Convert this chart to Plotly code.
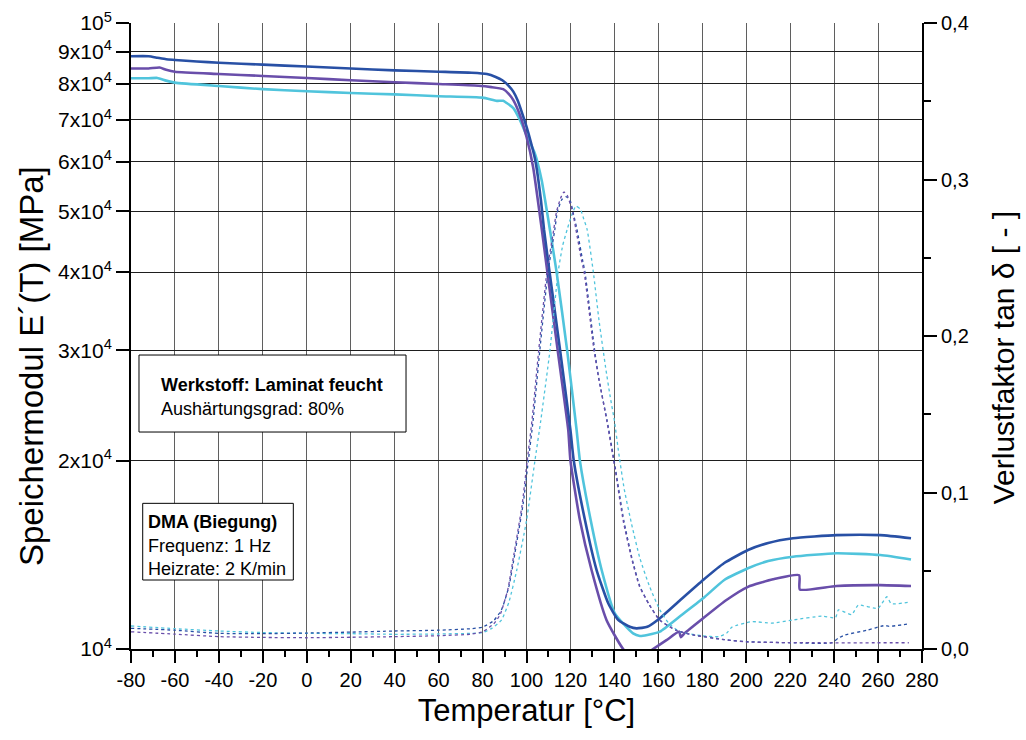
import plotly.graph_objects as go

# ---- storage modulus E'(T) [MPa] ----
temp_e_blue = [-80, -72, -68, -64, -60, -50, -40, -20, 0, 20, 40, 60, 75, 82, 86, 89, 92, 94, 96, 98, 100,
               102, 103.8, 105.2, 106.6, 108.0, 110.5, 115.3, 120.0, 121.5, 126.6, 131.9, 137.2, 141.7, 147.0,
               150.1, 155, 160.7, 170, 180.4, 190, 200.8, 210, 221.3, 241, 261, 275]
e_blue = [88500, 88500, 88000, 87500, 87300, 86800, 86400, 85800, 85200, 84600, 84000, 83600, 83300, 82900,
          82000, 81000, 79300, 77700, 75200, 71800, 68300, 64500, 60800, 56800, 52000, 46700, 40000, 30000,
          22380, 20000, 16070, 13370, 11830, 11130, 10850, 10790, 10850, 11200, 11975, 12890, 13720, 14390,
          14770, 15030, 15200, 15200, 15030]

temp_e_purple = [-80, -72, -67, -64, -60, -40, -20, 0, 20, 40, 60, 78, 84, 89.4, 92, 94, 97, 100, 103,
                 107.0, 109.5, 114.2, 119.0, 120.0, 124.3, 129.6, 136.4, 144.0, 150, 157.6, 163.7, 169.5,
                 170.2, 172, 180.4, 191, 200.8, 212.2, 224.1, 224.4, 241, 261, 275]
e_purple = [84600, 84600, 84900, 84200, 83600, 82900, 82300, 81700, 81000, 80400, 79900, 79400, 79000,
            78400, 77000, 75300, 71300, 65800, 58900, 46700, 40000, 30000, 22380, 20000, 16070, 13370,
            11130, 10000, 9600, 10000, 10330, 10660, 10440, 10600, 11200, 11975, 12570, 12920, 13120,
            12450, 12610, 12650, 12610]

temp_e_cyan = [-80, -72, -68, -64, -60, -40, -20, 0, 20, 40, 60, 80, 86.5, 89.4, 91, 94, 97, 100, 103.8,
               106.9, 109.8, 113.7, 118.5, 122.8, 124.3, 129.2, 134.2, 140.2, 148.5, 151.6, 155,
               160.7, 170, 180.4, 190, 200.8, 210, 221.3, 241, 261, 275]
e_cyan = [81600, 81600, 81700, 80900, 80300, 79300, 78400, 77800, 77300, 76900, 76400, 76000, 75100, 75100,
          74500, 73100, 70000, 66200, 61900, 56100, 48800, 40000, 30000, 22380, 20000, 16070, 13370,
          11400, 10590, 10490, 10530, 10660, 11290, 12050, 12890, 13460, 13820, 14040, 14220, 14130, 13900]

# ---- loss factor tan delta [-] ----
temp_d_blue = [-80, -60, -40, -20, 0, 20, 40, 60, 75, 80, 85, 88.6, 92, 94.7, 98.5, 100.8, 103, 106, 109.8,
               112.9, 114, 116, 118, 120, 121.2, 123, 125.5, 126.6, 131.1, 133, 136.7, 140.5, 144.3, 148,
               151.6, 156, 160.7, 168, 175.8, 190, 200, 220, 239, 242, 245, 255, 263, 265, 274]
d_blue = [0.0132, 0.0120, 0.0100, 0.0098, 0.0102, 0.0108, 0.0115, 0.0120, 0.0130, 0.0140, 0.018, 0.025,
          0.040, 0.061, 0.093, 0.120, 0.146, 0.190, 0.241, 0.268, 0.279, 0.287, 0.289, 0.286, 0.279, 0.268,
          0.2486, 0.241, 0.190, 0.172, 0.146, 0.115, 0.082, 0.058, 0.040, 0.028, 0.0185, 0.012, 0.009,
          0.006, 0.0047, 0.004, 0.004, 0.007, 0.009, 0.012, 0.015, 0.0145, 0.016]

temp_d_purple = [-80, -60, -40, -20, 0, 20, 40, 60, 75, 80, 85, 88, 91.5, 94.2, 98, 100.3, 102.5, 105.5,
                 109.3, 112.4, 113.6, 115.5, 117, 118.5, 120, 121, 122.5, 125, 126.2, 130.8, 133, 136.5,
                 140.3, 144, 147.8, 151.4, 156, 160.5, 168, 175.8, 190, 200, 230, 274]
d_purple = [0.011, 0.0095, 0.0079, 0.0074, 0.0072, 0.0075, 0.0079, 0.0085, 0.0095, 0.011, 0.016, 0.022,
            0.038, 0.060, 0.092, 0.120, 0.146, 0.190, 0.241, 0.268, 0.279, 0.288, 0.292, 0.290, 0.284,
            0.279, 0.268, 0.2486, 0.241, 0.190, 0.172, 0.146, 0.115, 0.082, 0.058, 0.040, 0.028, 0.0185,
            0.012, 0.009, 0.006, 0.0045, 0.004, 0.004]

temp_d_cyan = [-80, -60, -40, -20, 0, 20, 40, 60, 75, 80, 84, 88.6, 92, 95.5, 100, 103.8, 106.5, 110.6,
               114.4, 116.5, 118.5, 120.5, 122.5, 124.5, 126, 127.6, 130.4, 133, 136, 138, 140, 142, 144.5,
               147.8, 151.6, 156, 160.7, 165, 170, 180, 187.5, 191, 193.5, 202.6, 211.7, 221, 234.5, 240.6,
               242, 248, 251, 260, 264, 266, 274.5]
d_cyan = [0.0147, 0.013, 0.0115, 0.0105, 0.010, 0.0098, 0.0094, 0.0096, 0.0100, 0.0105, 0.013, 0.0185,
          0.030, 0.050, 0.082, 0.120, 0.146, 0.190, 0.241, 0.258, 0.268, 0.277, 0.283, 0.281, 0.275, 0.268,
          0.241, 0.210, 0.180, 0.162, 0.146, 0.125, 0.102, 0.080, 0.058, 0.040, 0.025, 0.016, 0.011, 0.0085,
          0.0079, 0.010, 0.014, 0.0175, 0.0165, 0.0185, 0.021, 0.020, 0.025, 0.022, 0.028, 0.026, 0.0334,
          0.029, 0.030]

# ---- axis ticks ----
temp_tickvals = list(range(-80, 281, 20))
temp_ticktext = [str(v) for v in temp_tickvals]          # plain hyphen as minus sign
e_tickvals = [10000, 20000, 30000, 40000, 50000, 60000, 70000, 80000, 90000, 100000]
e_ticktext = ["10<sup>4</sup>", "2x10<sup>4</sup>", "3x10<sup>4</sup>", "4x10<sup>4</sup>", "5x10<sup>4</sup>",
              "6x10<sup>4</sup>", "7x10<sup>4</sup>", "8x10<sup>4</sup>", "9x10<sup>4</sup>", "10<sup>5</sup>"]
d_tickvals = [0.0, 0.1, 0.2, 0.3, 0.4]
d_ticktext = ["0,0", "0,1", "0,2", "0,3", "0,4"]
d_minorvals = [0.05, 0.15, 0.25, 0.35]

BLUE = "rgb(40,80,165)"
PURPLE = "rgb(105,78,170)"
CYAN = "rgb(80,196,220)"
FONT = "Liberation Sans, Arial, Helvetica, sans-serif"

fig = go.Figure()

# tan delta (thin dotted, right axis)
for t, d, c in [(temp_d_cyan, d_cyan, CYAN), (temp_d_blue, d_blue, BLUE), (temp_d_purple, d_purple, PURPLE)]:
    fig.add_trace(go.Scatter(x=t, y=d, yaxis="y2", mode="lines",
                             line=dict(color=c, width=1.3, dash="dot", shape="spline", smoothing=0.5),
                             hoverinfo="skip"))

# storage modulus (solid, left log axis)
for t, e, c in [(temp_e_cyan, e_cyan, CYAN), (temp_e_purple, e_purple, PURPLE), (temp_e_blue, e_blue, BLUE)]:
    fig.add_trace(go.Scatter(x=t, y=e, yaxis="y", mode="lines",
                             line=dict(color=c, width=2.6, shape="spline", smoothing=0.5),
                             hoverinfo="skip"))

tick_common = dict(ticks="outside", tickcolor="black", tickwidth=2, showline=True,
                   linecolor="black", linewidth=2, zeroline=False, automargin=False)

fig.update_layout(
    width=1026, height=740,
    margin=dict(l=131, r=104, t=23, b=91),
    paper_bgcolor="white", plot_bgcolor="white",
    showlegend=False,
    font=dict(family=FONT, color="black"),
    xaxis=dict(range=[-80, 280], tickmode="array", tickvals=temp_tickvals, ticktext=temp_ticktext,
               ticklen=12, showgrid=True, gridcolor="rgb(95,95,95)", gridwidth=1.3,
               tickfont=dict(size=20),
               minor=dict(tick0=-80, dtick=10, ticks="outside", ticklen=6, tickwidth=2,
                          tickcolor="black", showgrid=False),
               title=dict(text="Temperatur [°C]", font=dict(size=31), standoff=9),
               **tick_common),
    yaxis=dict(type="log", range=[4, 5], tickmode="array", tickvals=e_tickvals, ticktext=e_ticktext,
               ticklen=13, showgrid=True, gridcolor="rgb(30,30,30)", gridwidth=1.2,
               tickfont=dict(size=21), **tick_common),
    yaxis2=dict(overlaying="y", side="right", range=[0, 0.4], tickmode="array",
                tickvals=d_tickvals, ticktext=d_ticktext, ticklen=13, showgrid=False,
                tickfont=dict(size=20),
                minor=dict(tickmode="array", tickvals=d_minorvals, ticks="outside", ticklen=7,
                           tickwidth=2, tickcolor="black"),
                **tick_common),
)

# rotated axis titles
fig.add_annotation(text="Speichermodul E´(T) [MPa]", xref="paper", yref="paper",
                   x=-0.1264, y=0.452, textangle=-90, showarrow=False,
                   font=dict(size=33, family=FONT), xanchor="center", yanchor="middle")
fig.add_annotation(text="Verlustfaktor tan δ [ - ]", xref="paper", yref="paper",
                   x=1.1024, y=0.466, textangle=-90, showarrow=False,
                   font=dict(size=30, family=FONT), xanchor="center", yanchor="middle")

# info boxes
fig.add_shape(type="rect", xref="paper", yref="paper", x0=0.0101, x1=0.3477, y0=0.3466, y1=0.4696,
              line=dict(color="black", width=1), fillcolor="white", layer="above")
fig.add_shape(type="rect", xref="paper", yref="paper", x0=0.0148, x1=0.2052, y0=0.1102, y1=0.2327,
              line=dict(color="black", width=1), fillcolor="white", layer="above")

box_lines = [
    ("<b>Werkstoff: Laminat feucht</b>", 159, 384.5),
    ("Aushärtungsgrad: 80%", 159, 409.3),
    ("<b>DMA (Biegung)</b>", 145.5, 522),
    ("Frequenz: 1 Hz", 145.5, 545.5),
    ("Heizrate: 2 K/min", 145.5, 569),
]
for txt, px, py in box_lines:
    fig.add_annotation(text=txt, xref="paper", yref="paper",
                       x=(px - 131) / 791, y=(649 - py) / 626,
                       xanchor="left", yanchor="middle", showarrow=False, align="left",
                       font=dict(size=18, family=FONT, color="black"))

fig.write_html("out.html")
